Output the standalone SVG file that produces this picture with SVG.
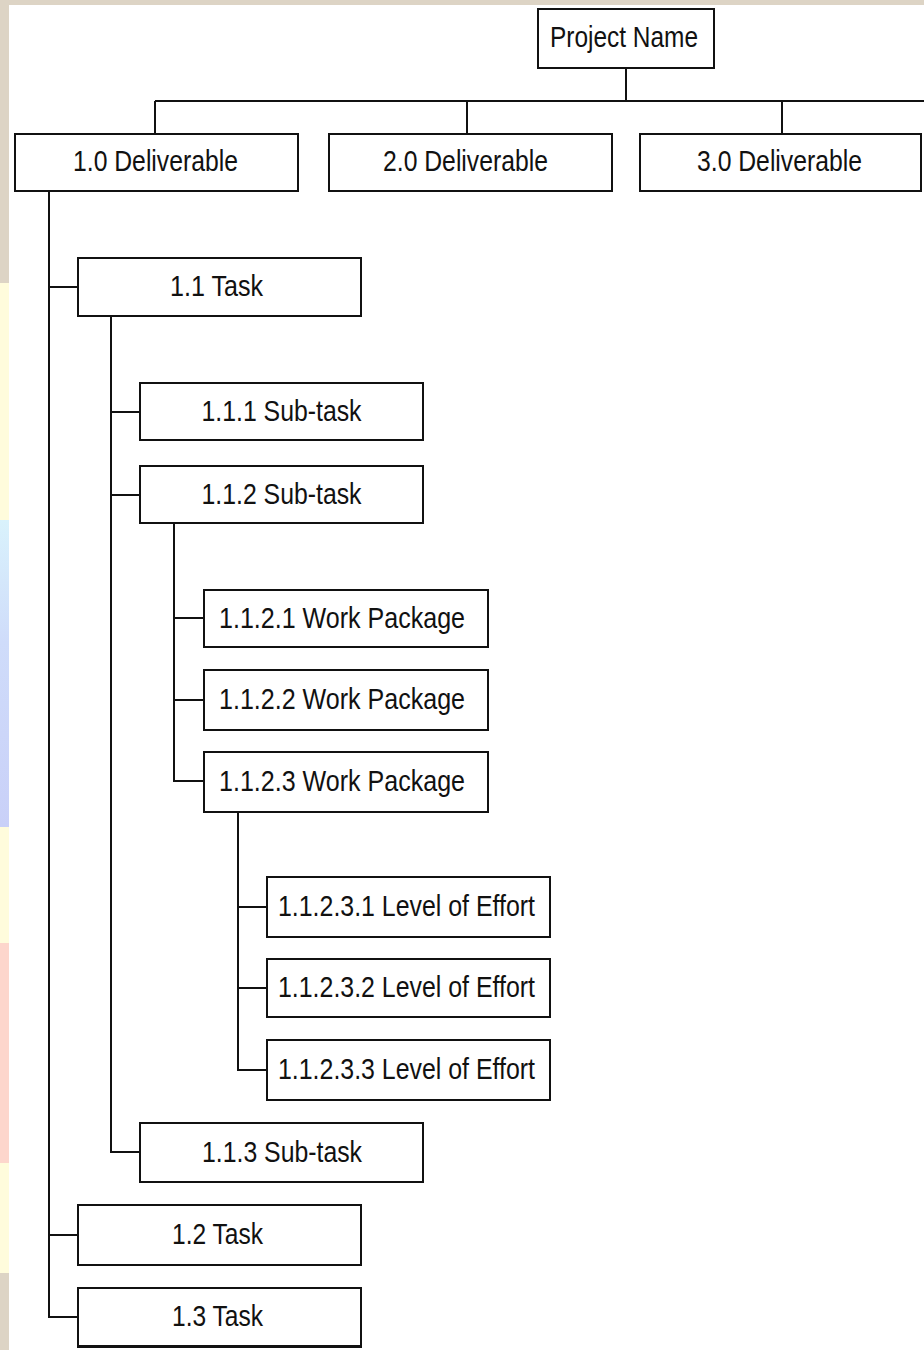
<svg xmlns="http://www.w3.org/2000/svg" width="924" height="1350" viewBox="0 0 924 1350">
<style>
.box{fill:#fff;stroke:#111;stroke-width:2}
.lbl{font-family:"Liberation Sans",Arial,sans-serif;font-size:30px;fill:#111;text-anchor:middle}
.conn{fill:none;stroke:#111;stroke-width:2}
</style>
<defs>
<linearGradient id="blue" x1="0" y1="0" x2="0" y2="1">
<stop offset="0" stop-color="#d9f2fc"/>
<stop offset="0.4" stop-color="#cfdcfa"/>
<stop offset="1" stop-color="#c9d0f8"/>
</linearGradient>
</defs>
<g id="background">
<rect x="0" y="0" width="924" height="1350" fill="#ddd4c5"/>
<rect x="0" y="283" width="9" height="237" fill="#fffcdc"/>
<rect x="0" y="520" width="9" height="307" fill="url(#blue)"/>
<rect x="0" y="827" width="9" height="116" fill="#fffcdc"/>
<rect x="0" y="943" width="9" height="220" fill="#fdd6cc"/>
<rect x="0" y="1163" width="9" height="110" fill="#fffcdc"/>
<rect x="9" y="5" width="915" height="1345" fill="#fff"/>
</g>
<g id="connectors">
<path class="conn" d="M626 68V101M155 101H924M155 101V134M467 101V134M782 101V134"/>
<path class="conn" d="M49 191V1317H78M49 287H78M49 1235H78"/>
<path class="conn" d="M111 316V1152H140M111 412H140M111 495H140"/>
<path class="conn" d="M174 523V781H204M174 618H204M174 700H204"/>
<path class="conn" d="M238 812V1070H267M238 907H267M238 988H267"/>
</g>
<g id="project"><rect class="box" x="538" y="9" width="176" height="59"/><text class="lbl" x="624" y="47" textLength="148" lengthAdjust="spacingAndGlyphs">Project Name</text></g>
<g id="d1"><rect class="box" x="15" y="134" width="283" height="57"/><text class="lbl" x="155.5" y="171" textLength="165" lengthAdjust="spacingAndGlyphs">1.0 Deliverable</text></g>
<g id="d2"><rect class="box" x="329" y="134" width="283" height="57"/><text class="lbl" x="465.5" y="171" textLength="165" lengthAdjust="spacingAndGlyphs">2.0 Deliverable</text></g>
<g id="d3"><rect class="box" x="640" y="134" width="281" height="57"/><text class="lbl" x="779.5" y="171" textLength="165" lengthAdjust="spacingAndGlyphs">3.0 Deliverable</text></g>
<g id="t11"><rect class="box" x="78" y="258" width="283" height="58"/><text class="lbl" x="216.5" y="296" textLength="93" lengthAdjust="spacingAndGlyphs">1.1 Task</text></g>
<g id="s111"><rect class="box" x="140" y="383" width="283" height="57"/><text class="lbl" x="281.5" y="420.5" textLength="160" lengthAdjust="spacingAndGlyphs">1.1.1 Sub-task</text></g>
<g id="s112"><rect class="box" x="140" y="466" width="283" height="57"/><text class="lbl" x="281.5" y="503.5" textLength="160" lengthAdjust="spacingAndGlyphs">1.1.2 Sub-task</text></g>
<g id="w1"><rect class="box" x="204" y="590" width="284" height="57"/><text class="lbl" x="342" y="627.5" textLength="246" lengthAdjust="spacingAndGlyphs">1.1.2.1 Work Package</text></g>
<g id="w2"><rect class="box" x="204" y="670" width="284" height="60"/><text class="lbl" x="342" y="708.5" textLength="246" lengthAdjust="spacingAndGlyphs">1.1.2.2 Work Package</text></g>
<g id="w3"><rect class="box" x="204" y="752" width="284" height="60"/><text class="lbl" x="342" y="790.5" textLength="246" lengthAdjust="spacingAndGlyphs">1.1.2.3 Work Package</text></g>
<g id="l1"><rect class="box" x="267" y="877" width="283" height="60"/><text class="lbl" x="406.5" y="915.5" textLength="257" lengthAdjust="spacingAndGlyphs">1.1.2.3.1 Level of Effort</text></g>
<g id="l2"><rect class="box" x="267" y="959" width="283" height="58"/><text class="lbl" x="406.5" y="996.5" textLength="257" lengthAdjust="spacingAndGlyphs">1.1.2.3.2 Level of Effort</text></g>
<g id="l3"><rect class="box" x="267" y="1040" width="283" height="60"/><text class="lbl" x="406.5" y="1078.5" textLength="257" lengthAdjust="spacingAndGlyphs">1.1.2.3.3 Level of Effort</text></g>
<g id="s113"><rect class="box" x="140" y="1123" width="283" height="59"/><text class="lbl" x="282" y="1161.5" textLength="160" lengthAdjust="spacingAndGlyphs">1.1.3 Sub-task</text></g>
<g id="t12"><rect class="box" x="78" y="1205" width="283" height="60"/><text class="lbl" x="217.5" y="1243.5" textLength="91" lengthAdjust="spacingAndGlyphs">1.2 Task</text></g>
<g id="t13"><rect class="box" x="78" y="1288" width="283" height="58"/><line x1="77" y1="1346.5" x2="362" y2="1346.5" stroke="#111" stroke-width="3"/><text class="lbl" x="217.5" y="1326" textLength="91" lengthAdjust="spacingAndGlyphs">1.3 Task</text></g>
</svg>
